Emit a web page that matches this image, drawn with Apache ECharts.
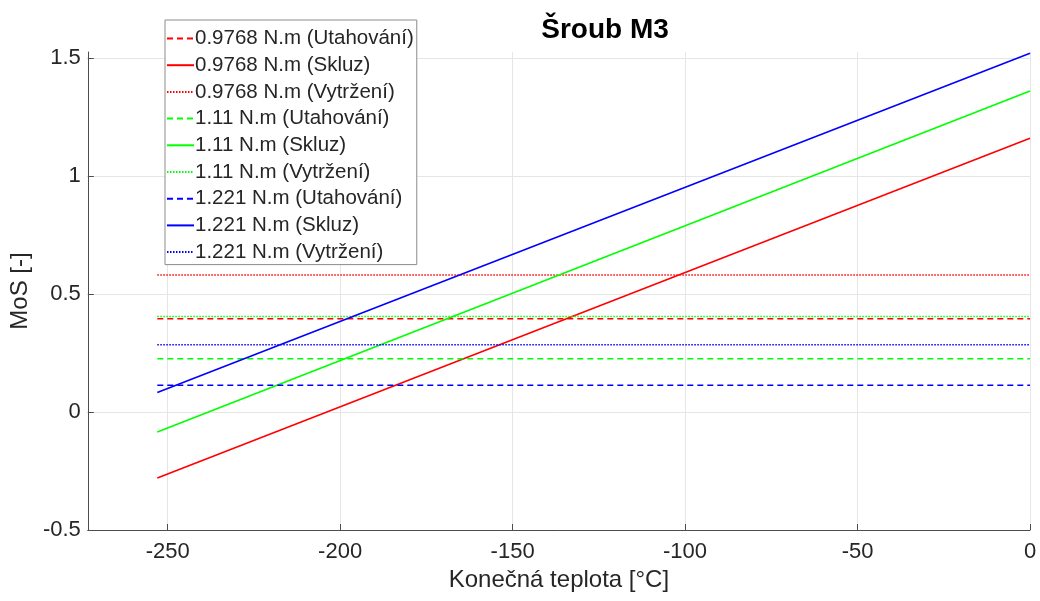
<!DOCTYPE html>
<html>
<head>
<meta charset="utf-8">
<script src="https://cdn.jsdelivr.net/npm/echarts@6/dist/echarts.min.js"></script>
<style>
  html, body { margin: 0; padding: 0; background: #fff; }
  #chart { width: 1040px; height: 601px; }
</style>
</head>
<body>
<div id="chart"></div>
<script>
// temperature range of every line (start, end) in °C
const tempRange = [-253, 0];
const xTicks = [-250, -200, -150, -100, -50, 0];
const yTicks = [-0.5, 0, 0.5, 1, 1.5];
const torques = ['0.9768', '1.11', '1.221'];
const colors = ['#ff0000', '#00ff00', '#0000ff'];
// MoS at start / end of temperature range (Skluz)
const skluzStart = [-0.28, -0.085, 0.083];
const skluzEnd = [1.16, 1.36, 1.52];
// constant MoS levels
const utahovani = [0.395, 0.226, 0.113];
const vytrzeni = [0.58, 0.405, 0.285];

const fontFamily = 'Arial, "Liberation Sans", sans-serif';
const textColor = '#262626';
const axisColor = '#4d4d4d';
const gridColor = '#e6e6e6';

const series = [];
torques.forEach((t, i) => {
  const common = { type: 'line', symbol: 'none', showSymbol: false, silent: true, animation: false };
  series.push({
    ...common,
    name: `${t} N.m (Utahování)`,
    data: tempRange.map((x) => [x, utahovani[i]]),
    lineStyle: { color: colors[i], width: 1.5, type: [6, 4] },
    itemStyle: { color: colors[i] },
  });
  series.push({
    ...common,
    name: `${t} N.m (Skluz)`,
    data: [[tempRange[0], skluzStart[i]], [tempRange[1], skluzEnd[i]]],
    lineStyle: { color: colors[i], width: 1.6, type: 'solid' },
    itemStyle: { color: colors[i] },
  });
  series.push({
    ...common,
    name: `${t} N.m (Vytržení)`,
    data: tempRange.map((x) => [x, vytrzeni[i]]),
    lineStyle: { color: colors[i], width: 1.5, type: [1.5, 1.5] },
    itemStyle: { color: colors[i] },
  });
});

const chart = echarts.init(document.getElementById('chart'));
chart.setOption({
  backgroundColor: '#fff',
  animation: false,
  title: {
    text: 'Šroub M3',
    left: 600,
    textAlign: 'center',
    top: 11,
    textStyle: { fontFamily, fontSize: 28, fontWeight: 'bold', color: '#000' },
  },
  grid: { left: 87, right: 10, top: 52, bottom: 71 },
  legend: {
    orient: 'vertical',
    left: 165,
    top: 20,
    padding: [8, 3, 2, 1],
    itemWidth: 27,
    itemHeight: 14,
    itemGap: 5.7,
    backgroundColor: '#fff',
    borderColor: '#8c8c8c',
    borderWidth: 1,
    borderRadius: 0,
    itemStyle: { opacity: 0 },
    textStyle: { fontFamily, fontSize: 20.5, lineHeight: 20, color: textColor, padding: [0, 0, 0, -4] },
    data: series.map((s) => s.name),
  },
  xAxis: {
    type: 'value',
    min: -273.15,
    max: 0,
    name: 'Konečná teplota [°C]',
    nameLocation: 'middle',
    nameGap: 38,
    nameTextStyle: { fontFamily, fontSize: 24, color: textColor },
    axisLine: { show: true, onZero: false, lineStyle: { color: axisColor, width: 1 } },
    axisTick: { show: true, inside: true, length: 6, customValues: xTicks, lineStyle: { color: axisColor } },
    axisLabel: { fontFamily, fontSize: 22, color: textColor, margin: 11, customValues: xTicks },
    splitLine: { show: true, customValues: xTicks, lineStyle: { color: gridColor, width: 1 } },
  },
  yAxis: {
    type: 'value',
    min: -0.5,
    max: 1.525,
    name: 'MoS [-]',
    nameLocation: 'middle',
    nameGap: 53,
    nameTextStyle: { fontFamily, fontSize: 24, color: textColor },
    axisLine: { show: true, onZero: false, lineStyle: { color: axisColor, width: 1 } },
    axisTick: { show: true, inside: true, length: 6, customValues: yTicks, lineStyle: { color: axisColor } },
    axisLabel: { fontFamily, fontSize: 22, color: textColor, margin: 7, customValues: yTicks },
    splitLine: { show: true, customValues: yTicks, lineStyle: { color: gridColor, width: 1 } },
  },
  series,
});
</script>
</body>
</html>
